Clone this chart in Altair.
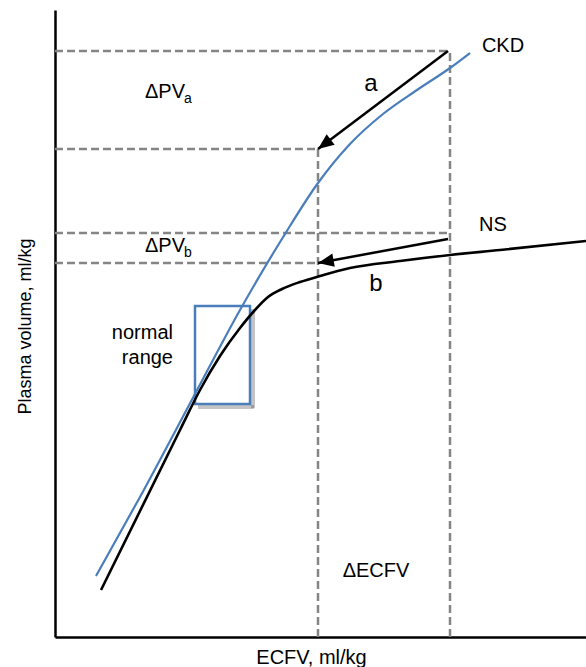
import math
import altair as alt
import pandas as pd

# Schematic units (arbitrary): x = ECFV, y = plasma volume
ckd_x = [41, 85, 140, 185, 230, 263, 295, 328, 362, 395, 415]
ckd_y = [61, 140, 243, 327, 403, 454, 493, 523, 547, 569, 584]

ns_x = [46, 125, 145, 165, 185, 200, 213, 227, 245, 265, 295, 345, 395, 445, 531]
ns_y = [47, 207, 247, 281, 309, 327, 340, 348, 355, 361, 369, 376, 382, 387, 396]

# reference (dashed) segments
ref_x = [0, 0, 0, 0, 263, 395]
ref_x2 = [395, 263, 395, 263, 263, 395]
ref_y = [586, 488, 404, 374, 0, 0]
ref_y2 = [586, 488, 404, 374, 488, 586]

# arrows a and b: start -> tip
arr_x = [393, 393]
arr_y = [586, 398]
arr_x2 = [263, 263]
arr_y2 = [488, 374]

# normal range box
box_x, box_x2, box_y, box_y2 = [140], [195], [233], [331]

# labels
c_text = ["CKD", "a", "NS", "b", "\u0394ECFV"]
c_x = [448, 316, 438, 321, 321]
c_y = [591, 553, 412, 353, 66]
c_size = [20, 24, 20, 24, 20]

r_text = ["normal", "range"]
r_x = [118, 118]
r_y = [304, 279]

l_text = ["\u0394PV", "a", "\u0394PV", "b"]
l_x = [90, 129, 90, 129]
l_y = [539, 534, 385, 380]
l_size = [20, 14, 20, 14]

W, H = 531, 627
font = "Liberation Sans"
xs = alt.Scale(domain=[0, W], nice=False, zero=False)
ys = alt.Scale(domain=[0, H], nice=False, zero=False)

ckd = pd.DataFrame({"x": ckd_x, "y": ckd_y})
ns = pd.DataFrame({"x": ns_x, "y": ns_y})
refs = pd.DataFrame({"x": ref_x, "x2": ref_x2, "y": ref_y, "y2": ref_y2})
arrows = pd.DataFrame({"x": arr_x, "y": arr_y, "x2": arr_x2, "y2": arr_y2})
arrows["angle"] = [
    (math.degrees(math.atan2(x2 - x, y2 - y)) + 360) % 360
    for x, y, x2, y2 in zip(arr_x, arr_y, arr_x2, arr_y2)
]
box = pd.DataFrame({"x": box_x, "x2": box_x2, "y": box_y, "y2": box_y2})
# drop shadow: right and bottom edges, slightly offset
shadow = pd.DataFrame({
    "x": [box_x2[0] + 3, box_x[0] + 3],
    "x2": [box_x2[0] + 3, box_x2[0] + 4],
    "y": [box_y2[0] - 3, box_y[0] - 3],
    "y2": [box_y[0] - 4, box_y[0] - 3],
})
clab = pd.DataFrame({"t": c_text, "x": c_x, "y": c_y, "s": c_size})
rlab = pd.DataFrame({"t": r_text, "x": r_x, "y": r_y})
llab = pd.DataFrame({"t": l_text, "x": l_x, "y": l_y, "s": l_size})

base_axes = alt.Chart(ckd).mark_point(opacity=0).encode(
    x=alt.X("x:Q", scale=xs, title="ECFV, ml/kg",
            axis=alt.Axis(labels=False, ticks=False, grid=False, domainColor="black",
                          domainWidth=2.5, titleFontSize=20, titleFont=font,
                          titleFontWeight="normal", titleColor="black",
                          titleX=256, titleY=20, titleBaseline="middle")),
    y=alt.Y("y:Q", scale=ys, title="Plasma volume, ml/kg",
            axis=alt.Axis(labels=False, ticks=False, grid=False, domainColor="black",
                          domainWidth=2.5, titleFontSize=18, titleFont=font,
                          titleFontWeight="normal", titleColor="black",
                          titleX=-30, titleY=316, titleBaseline="middle")),
)

ref_layer = alt.Chart(refs).mark_rule(color="#858585", strokeWidth=2.5, strokeDash=[8, 4]).encode(
    x=alt.X("x:Q", scale=xs), x2="x2", y=alt.Y("y:Q", scale=ys), y2="y2")

shadow_layer = alt.Chart(shadow).mark_rule(color="#555555", opacity=0.35, strokeWidth=4).encode(
    x=alt.X("x:Q", scale=xs), x2="x2", y=alt.Y("y:Q", scale=ys), y2="y2")

box_layer = alt.Chart(box).mark_rect(fill=None, fillOpacity=0, stroke="#4a7ebb",
                                     strokeWidth=2.5).encode(
    x=alt.X("x:Q", scale=xs), x2="x2", y=alt.Y("y:Q", scale=ys), y2="y2")

ns_layer = alt.Chart(ns).mark_line(color="black", strokeWidth=2.6, interpolate="monotone").encode(
    x=alt.X("x:Q", scale=xs), y=alt.Y("y:Q", scale=ys))

ckd_layer = alt.Chart(ckd).mark_line(color="#4a7ebb", strokeWidth=2.2, interpolate="monotone").encode(
    x=alt.X("x:Q", scale=xs), y=alt.Y("y:Q", scale=ys))

arrow_lines = alt.Chart(arrows).mark_rule(color="black", strokeWidth=2.5).encode(
    x=alt.X("x:Q", scale=xs), x2="x2", y=alt.Y("y:Q", scale=ys), y2="y2")

arrow_heads = alt.Chart(arrows).mark_point(
    shape="M0,0L-0.42,1L0.42,1Z", filled=True, color="black", opacity=1, size=1000
).encode(x=alt.X("x2:Q", scale=xs), y=alt.Y("y2:Q", scale=ys),
         angle=alt.Angle("angle:Q", scale=None))

c_layer = alt.Chart(clab).mark_text(font=font, color="black", align="center",
                                    baseline="middle").encode(
    x=alt.X("x:Q", scale=xs), y=alt.Y("y:Q", scale=ys), text="t:N",
    size=alt.Size("s:Q", scale=None))

r_layer = alt.Chart(rlab).mark_text(font=font, color="black", align="right",
                                    baseline="middle", fontSize=20).encode(
    x=alt.X("x:Q", scale=xs), y=alt.Y("y:Q", scale=ys), text="t:N")

l_layer = alt.Chart(llab).mark_text(font=font, color="black", align="left",
                                    baseline="alphabetic").encode(
    x=alt.X("x:Q", scale=xs), y=alt.Y("y:Q", scale=ys), text="t:N",
    size=alt.Size("s:Q", scale=None))

chart = alt.layer(
    base_axes, ref_layer, shadow_layer, box_layer, ns_layer, ckd_layer,
    arrow_lines, arrow_heads, c_layer, r_layer, l_layer
).properties(
    width=W, height=H,
    padding={"left": 55, "top": 10, "right": 0, "bottom": 30},
    autosize=alt.AutoSizeParams(type="none"),
    background="white",
).configure_view(stroke=None)

chart.save("out.html", embed_options={"renderer": "svg", "actions": False})
